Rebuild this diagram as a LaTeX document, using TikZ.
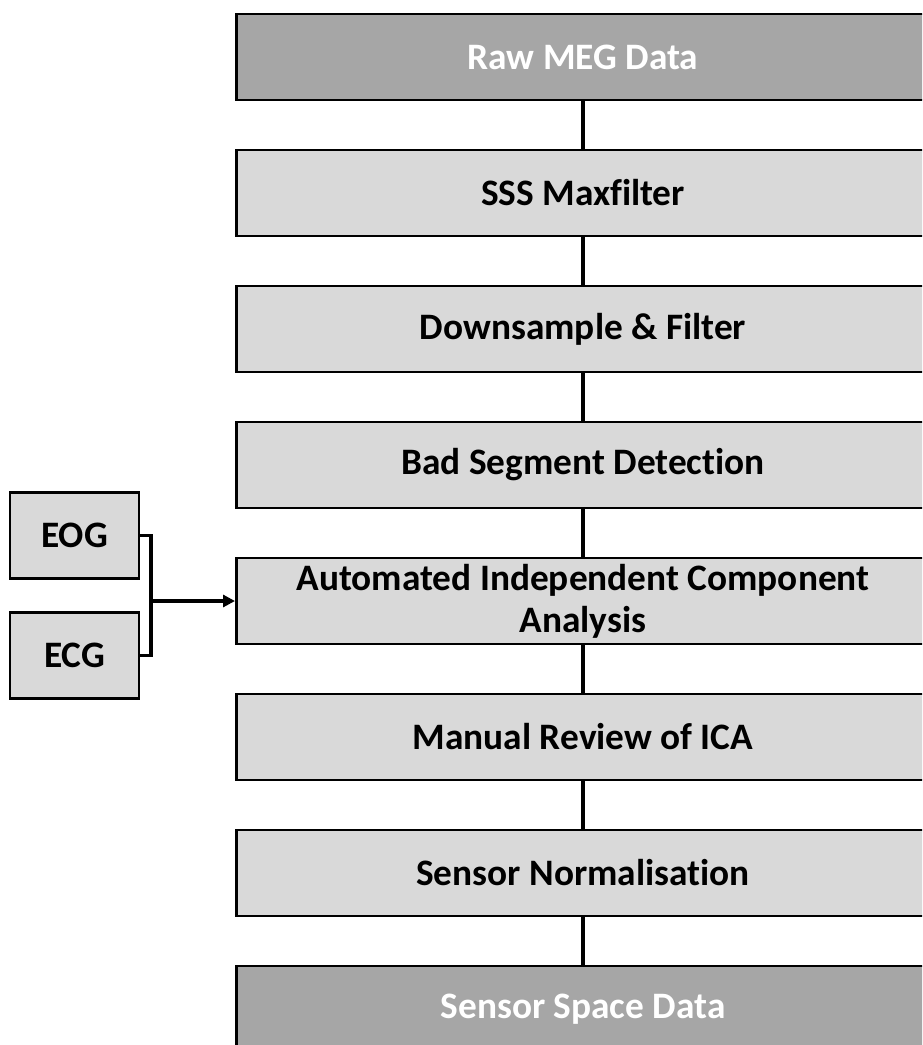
\documentclass[tikz,border=0pt]{standalone}
\usepackage{fontspec}
\setmainfont{Carlito}[Ligatures=CommonOff]
\usetikzlibrary{arrows.meta,positioning}

\definecolor{darkbox}{HTML}{A6A6A6}
\definecolor{lightbox}{HTML}{D9D9D9}

\begin{document}
\begin{tikzpicture}[x=0.75pt,y=-0.75pt,
        stage/.style={draw=black, line width=2pt, fill=lightbox,
          minimum width=520pt, minimum height=64.5pt, inner sep=1pt,
          align=center, font=\fontsize{28}{31.5}\selectfont\bfseries},
        endstage/.style={stage, fill=darkbox, text=white},
        sensor/.style={stage, minimum width=96.75pt},
        link/.style={line width=3pt}]
        \clip (0,0) rectangle (922,1045);

        \node (S0) [endstage] at (583,57) {Raw MEG Data};
        \node (S1) [stage] at (583,193) {SSS Maxfilter};
        \node (S2) [stage] at (583,329) {Downsample \& Filter};
        \node (S3) [stage] at (583,465) {Bad Segment Detection};
        \node (S4) [stage] at (583,601) {Automated Independent Component\\Analysis};
        \node (S5) [stage] at (583,737) {Manual Review of ICA};
        \node (S6) [stage] at (583,873) {Sensor Normalisation};
        \node (S7) [endstage] at (583,1009) {Sensor Space Data};

        \node (EOG) [sensor] at (74.5,535.5) {EOG};
        \node (ECG) [sensor] at (74.5,655.5) {ECG};

        \draw[link] (S0) -- (S1);
        \draw[link] (S1) -- (S2);
        \draw[link] (S2) -- (S3);
        \draw[link] (S3) -- (S4);
        \draw[link] (S4) -- (S5);
        \draw[link] (S5) -- (S6);
        \draw[link] (S6) -- (S7);

        % bracket joining the two sensor channels
        \coordinate (JX) at (151,0);
        \coordinate (J) at (S4.west -| JX);
        \draw[line width=2.4pt] (EOG.east) -| (J) |- (ECG.east);
        \draw[line width=2.4pt, -{Triangle[length=9pt,width=9pt]}] (J) -- (S4.west);
\end{tikzpicture}
\end{document}
